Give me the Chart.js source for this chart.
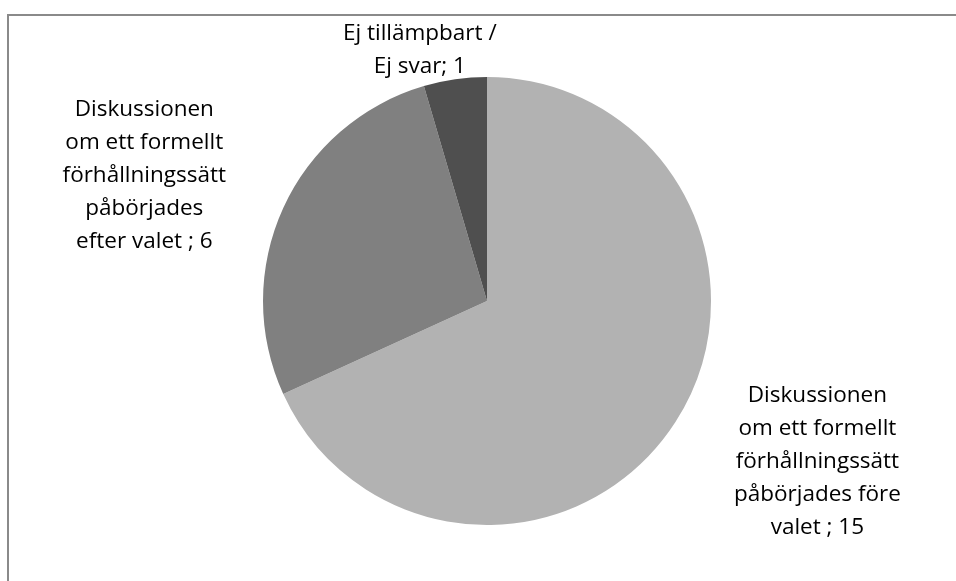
<!DOCTYPE html>
<html>
<head>
<meta charset="utf-8">
<script src="https://cdn.jsdelivr.net/npm/chart.js@4/dist/chart.umd.min.js"></script>
<style>
  html, body { margin: 0; padding: 0; background: #fff; overflow: hidden; }
  #wrap { position: relative; width: 956px; height: 581px; }
  #frame {
    position: absolute; left: 7px; top: 14px; width: 1000px; height: 700px;
    border: 2px solid #8a8a8a; box-sizing: border-box;
  }
  canvas { position: absolute; left: 0; top: 0; }
</style>
</head>
<body>
<div id="wrap">
  <div id="frame"></div>
  <canvas id="pie" width="956" height="581"></canvas>
</div>
<script>
const categories = [
  ['Diskussionen', 'om ett formellt', 'förhållningssätt', 'påbörjades före', 'valet ; 15'],
  ['Diskussionen', 'om ett formellt', 'förhållningssätt', 'påbörjades', 'efter valet ; 6'],
  ['Ej tillämpbart /', 'Ej svar; 1']
];
const values = [15, 6, 1];
const sliceColors = ['#b2b2b2', '#808080', '#4f4f4f'];
// label centres, relative to pie centre, in units of the pie radius
const labelAnchors = [[1.475, 0.715], [-1.53, -0.56], [-0.30, -1.12]];

const labelFont = "22.5px 'Open Sans', sans-serif";
const lineHeight = 33;

const pieLabels = {
  id: 'pieLabels',
  afterDatasetsDraw(chart) {
    const { ctx } = chart;
    const arcs = chart.getDatasetMeta(0).data;
    ctx.save();
    ctx.font = labelFont;
    ctx.fillStyle = '#000';
    ctx.textAlign = 'center';
    ctx.textBaseline = 'middle';
    arcs.forEach((arc, i) => {
      const r = arc.outerRadius;
      const cx = arc.x + labelAnchors[i][0] * r;
      const cy = arc.y + labelAnchors[i][1] * r;
      const lines = categories[i];
      const top = cy - (lines.length - 1) * lineHeight / 2;
      lines.forEach((line, j) => ctx.fillText(line, cx, top + j * lineHeight));
    });
    ctx.restore();
  }
};

new Chart(document.getElementById('pie'), {
  type: 'pie',
  data: {
    labels: categories.map(c => c.join(' ')),
    datasets: [{
      data: values,
      backgroundColor: sliceColors,
      borderWidth: 0,
      hoverOffset: 0,
    }],
  },
  options: {
    responsive: false,
    animation: false,
    layout: { padding: { left: 18, right: 0, top: 77, bottom: 56 } },
    plugins: { legend: { display: false }, tooltip: { enabled: false } },
  },
  plugins: [pieLabels],
});
</script>
</body>
</html>
